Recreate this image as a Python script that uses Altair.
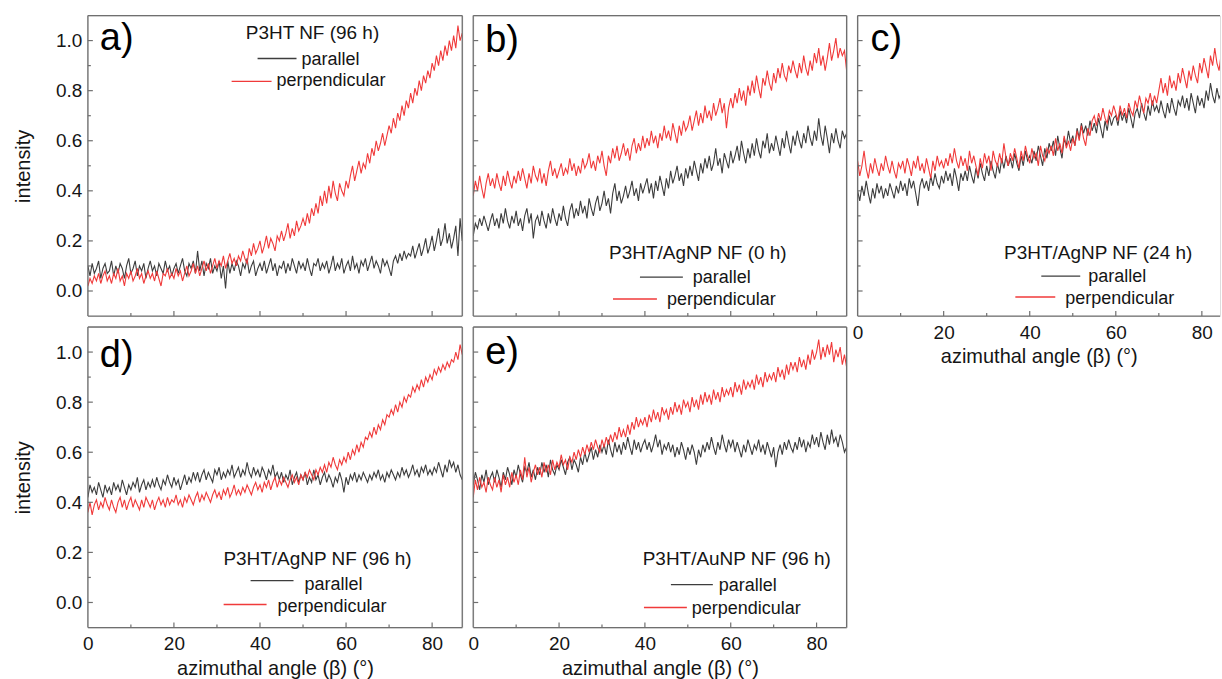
import altair as alt
import pandas as pd

# azimuthal angle grid (degrees), 0.5 deg steps from 0 to 87
ANGLE = [i * 0.5 for i in range(175)]

# ---------------- panel a) P3HT NF (96 h) ----------------
a_par = [
    0.10, 0.06, 0.11, 0.07, 0.09, 0.12, 0.05, 0.09, 0.11, 0.07,
    0.08, 0.12, 0.06, 0.10, 0.07, 0.11, 0.09, 0.05, 0.10, 0.13,
    0.07, 0.09, 0.12, 0.06, 0.10, 0.08, 0.11, 0.05, 0.09, 0.12,
    0.08, 0.10, 0.06, 0.11, 0.09, 0.07, 0.12, 0.08, 0.10, 0.06,
    0.09, 0.11, 0.07, 0.10, 0.13, 0.08, 0.06, 0.11, 0.09, 0.12,
    0.07, 0.16, 0.08, 0.12, 0.06, 0.11, 0.09, 0.13, 0.07, 0.10,
    0.08, 0.12, 0.05, 0.10, 0.01, 0.12, 0.07, 0.11, 0.08, 0.12,
    0.10, 0.06, 0.11, 0.09, 0.13, 0.07, 0.10, 0.12, 0.06, 0.09,
    0.11, 0.08, 0.12, 0.07, 0.10, 0.13, 0.08, 0.11, 0.06, 0.10,
    0.09, 0.12, 0.07, 0.11, 0.08, 0.13, 0.10, 0.07, 0.12, 0.09,
    0.11, 0.08, 0.13, 0.09, 0.06, 0.11, 0.10, 0.13, 0.08, 0.11,
    0.09, 0.12, 0.07, 0.10, 0.14, 0.08, 0.11, 0.09, 0.13, 0.07,
    0.10, 0.12, 0.08, 0.14, 0.09, 0.11, 0.07, 0.12, 0.10, 0.13,
    0.08, 0.11, 0.14, 0.09, 0.12, 0.10, 0.07, 0.13, 0.10, 0.12,
    0.09, 0.06, 0.12, 0.14, 0.11, 0.15, 0.12, 0.16, 0.13, 0.15,
    0.14, 0.18, 0.13, 0.16, 0.19, 0.14, 0.17, 0.21, 0.15, 0.18,
    0.22, 0.16, 0.20, 0.25, 0.18, 0.21, 0.27, 0.19, 0.23, 0.17,
    0.21, 0.26, 0.14, 0.29, 0.20,
]
a_perp = [
    0.02, 0.05, 0.03, 0.06, 0.04, 0.07, 0.03, 0.06, 0.08, 0.04,
    0.06, 0.03, 0.07, 0.05, 0.09, 0.04, 0.06, 0.02, 0.07, 0.05,
    0.08, 0.04, 0.06, 0.09, 0.05, 0.07, 0.03, 0.06, 0.08, 0.05,
    0.07, 0.04, 0.08, 0.05, 0.02, 0.07, 0.06, 0.09, 0.05, 0.07,
    0.05, 0.09, 0.06, 0.08, 0.04, 0.07, 0.10, 0.06, 0.08, 0.11,
    0.07, 0.10, 0.06, 0.09, 0.12, 0.08, 0.11, 0.07, 0.10, 0.13,
    0.09, 0.12, 0.10, 0.14, 0.09, 0.12, 0.15, 0.11, 0.13, 0.10,
    0.14, 0.12, 0.16, 0.13, 0.11, 0.17, 0.14, 0.19, 0.15, 0.17,
    0.20, 0.15, 0.18, 0.22, 0.17, 0.21, 0.19, 0.16, 0.22, 0.20,
    0.24, 0.20, 0.23, 0.27, 0.21, 0.25, 0.22, 0.28, 0.24, 0.26,
    0.29, 0.26, 0.31, 0.27, 0.33, 0.30, 0.35, 0.31, 0.38, 0.34,
    0.40, 0.35, 0.42, 0.37, 0.44, 0.39, 0.36, 0.43, 0.40, 0.38,
    0.44, 0.41, 0.46, 0.50, 0.44, 0.48, 0.52, 0.47, 0.51, 0.49,
    0.55, 0.51, 0.57, 0.54, 0.60, 0.56, 0.59, 0.63, 0.58, 0.62,
    0.66, 0.63, 0.69, 0.65, 0.71, 0.68, 0.74, 0.70, 0.76, 0.73,
    0.79, 0.75, 0.81, 0.78, 0.84, 0.80, 0.86, 0.83, 0.88, 0.85,
    0.91, 0.88, 0.94, 0.90, 0.96, 0.92, 0.98, 0.94, 1.00, 0.96,
    1.02, 0.97, 1.06, 1.00, 1.03,
]

# ---------------- panel b) P3HT/AgNP NF (0 h) ----------------
b_par = [
    0.22, 0.27, 0.25, 0.29, 0.26, 0.30, 0.27, 0.24, 0.28, 0.31,
    0.26, 0.29, 0.25, 0.31, 0.27, 0.33, 0.28, 0.25, 0.30, 0.27,
    0.32, 0.26, 0.29, 0.24, 0.30, 0.33, 0.27, 0.31, 0.21, 0.28,
    0.30, 0.26, 0.32, 0.28, 0.25, 0.31, 0.27, 0.33, 0.29, 0.26,
    0.31, 0.28, 0.34, 0.29, 0.26, 0.32, 0.35, 0.29, 0.33, 0.30,
    0.36, 0.31, 0.34, 0.29, 0.37, 0.33, 0.30, 0.35, 0.38, 0.32,
    0.35, 0.40, 0.34, 0.37, 0.31, 0.39, 0.43, 0.36, 0.40, 0.35,
    0.38, 0.42, 0.37, 0.40, 0.44, 0.38, 0.41, 0.36, 0.43, 0.39,
    0.42, 0.45, 0.39, 0.43, 0.37, 0.44, 0.40, 0.46, 0.42, 0.38,
    0.45, 0.41, 0.48, 0.43, 0.46, 0.50, 0.44, 0.47, 0.42, 0.49,
    0.45, 0.50, 0.46, 0.52, 0.48, 0.44, 0.51, 0.47, 0.53, 0.49,
    0.54, 0.48, 0.51, 0.57, 0.50, 0.53, 0.47, 0.55, 0.52, 0.49,
    0.56, 0.51, 0.54, 0.58, 0.52, 0.60, 0.55, 0.51, 0.57, 0.53,
    0.59, 0.54, 0.61, 0.56, 0.53, 0.60, 0.57, 0.63, 0.55, 0.59,
    0.56, 0.62, 0.58, 0.54, 0.61, 0.57, 0.64, 0.59, 0.55, 0.62,
    0.58, 0.64, 0.60, 0.57, 0.63, 0.59, 0.66, 0.61, 0.58, 0.64,
    0.60, 0.69, 0.62, 0.58, 0.66, 0.61, 0.55, 0.63, 0.59, 0.65,
    0.60, 0.57, 0.64, 0.61, 0.63,
]
b_perp = [
    0.38, 0.44, 0.40, 0.46, 0.41, 0.37, 0.43, 0.47, 0.42, 0.45,
    0.41, 0.47, 0.43, 0.40, 0.46, 0.42, 0.48, 0.44, 0.41, 0.46,
    0.43, 0.48, 0.44, 0.49, 0.45, 0.41, 0.47, 0.43, 0.50, 0.46,
    0.44, 0.49, 0.43, 0.47, 0.42, 0.48, 0.52, 0.46, 0.49, 0.45,
    0.48, 0.51, 0.46, 0.49, 0.47, 0.53, 0.48, 0.51, 0.46, 0.50,
    0.47, 0.53, 0.49, 0.51, 0.55, 0.49, 0.52, 0.48, 0.54, 0.51,
    0.56, 0.50, 0.46, 0.54, 0.51, 0.57, 0.53, 0.58, 0.52, 0.55,
    0.59, 0.54, 0.57, 0.52, 0.58, 0.61, 0.55, 0.59, 0.56, 0.62,
    0.57, 0.61, 0.58, 0.64, 0.59, 0.62, 0.57, 0.63, 0.60, 0.66,
    0.61, 0.64, 0.60, 0.67, 0.63, 0.59, 0.66, 0.62, 0.68, 0.64,
    0.66, 0.70, 0.64, 0.68, 0.72, 0.66, 0.71, 0.67, 0.74, 0.69,
    0.72, 0.68, 0.75, 0.70, 0.73, 0.77, 0.71, 0.75, 0.65, 0.73,
    0.77, 0.73, 0.79, 0.75, 0.81, 0.76, 0.80, 0.74, 0.82, 0.78,
    0.84, 0.79, 0.86, 0.81, 0.77, 0.85, 0.82, 0.88, 0.83, 0.80,
    0.87, 0.83, 0.89, 0.85, 0.91, 0.86, 0.84, 0.90, 0.87, 0.92,
    0.88, 0.85, 0.91, 0.87, 0.94, 0.89, 0.86, 0.92, 0.88, 0.95,
    0.91, 0.97, 0.90, 0.94, 0.88, 0.93, 0.99, 0.92, 0.96, 1.01,
    0.93, 0.97, 0.94, 0.96, 0.88,
]

# ---------------- panel c) P3HT/AgNP NF (24 h) ----------------
c_par = [
    0.40, 0.36, 0.42, 0.38, 0.44, 0.39, 0.35, 0.41, 0.37, 0.43,
    0.39, 0.42, 0.37, 0.41, 0.38, 0.43, 0.40, 0.37, 0.42, 0.39,
    0.44, 0.40, 0.43, 0.38, 0.45, 0.41, 0.44, 0.39, 0.34, 0.42,
    0.45, 0.41, 0.44, 0.40, 0.46, 0.42, 0.47, 0.43, 0.41, 0.46,
    0.43, 0.48, 0.44, 0.47, 0.42, 0.49, 0.45, 0.40, 0.47, 0.44,
    0.48, 0.44, 0.50, 0.46, 0.43, 0.49, 0.45, 0.51, 0.47, 0.44,
    0.50, 0.46, 0.52, 0.48, 0.45, 0.51, 0.47, 0.53, 0.49, 0.54,
    0.50, 0.53, 0.49, 0.55, 0.51, 0.48, 0.54, 0.50, 0.56, 0.52,
    0.54, 0.51, 0.56, 0.52, 0.58, 0.54, 0.50, 0.57, 0.53, 0.59,
    0.56, 0.60, 0.54, 0.62, 0.57, 0.53, 0.61, 0.58, 0.64, 0.59,
    0.62, 0.58, 0.65, 0.61, 0.67, 0.63, 0.66, 0.62, 0.68, 0.64,
    0.67, 0.63, 0.69, 0.65, 0.61, 0.68, 0.64, 0.70, 0.66, 0.69,
    0.70, 0.66, 0.72, 0.68, 0.71, 0.67, 0.73, 0.69, 0.65, 0.71,
    0.73, 0.69, 0.75, 0.71, 0.68, 0.74, 0.70, 0.76, 0.72, 0.74,
    0.71, 0.76, 0.72, 0.69, 0.75, 0.71, 0.77, 0.73, 0.70, 0.76,
    0.74, 0.78, 0.73, 0.77, 0.72, 0.79, 0.75, 0.71, 0.78, 0.74,
    0.77, 0.73, 0.80, 0.76, 0.83, 0.78, 0.75, 0.81, 0.77, 0.79,
    0.76, 0.81, 0.78, 0.80, 0.77,
]
c_perp = [
    0.52, 0.46, 0.50, 0.56, 0.49, 0.45, 0.51, 0.47, 0.53, 0.49,
    0.46, 0.51, 0.48, 0.54, 0.50, 0.47, 0.52, 0.48, 0.45, 0.51,
    0.49, 0.52, 0.47, 0.53, 0.50, 0.46, 0.52, 0.49, 0.54, 0.48,
    0.51, 0.47, 0.53, 0.49, 0.45, 0.52, 0.48, 0.54, 0.50, 0.52,
    0.49, 0.53, 0.50, 0.55, 0.51, 0.57, 0.52, 0.49, 0.54, 0.50,
    0.53, 0.48, 0.56, 0.51, 0.54, 0.50, 0.46, 0.53, 0.49, 0.55,
    0.51, 0.54, 0.48, 0.56, 0.52, 0.50, 0.55, 0.51, 0.59, 0.53,
    0.50, 0.55, 0.52, 0.57, 0.53, 0.49, 0.56, 0.52, 0.58, 0.54,
    0.51, 0.57, 0.53, 0.55, 0.50, 0.58, 0.54, 0.52, 0.57, 0.55,
    0.58, 0.54, 0.61, 0.56, 0.59, 0.55, 0.62, 0.57, 0.60, 0.56,
    0.61, 0.58, 0.64, 0.60, 0.66, 0.61, 0.58, 0.65, 0.62, 0.68,
    0.70, 0.66, 0.71, 0.68, 0.73, 0.69, 0.67, 0.72, 0.70, 0.74,
    0.71, 0.68, 0.74, 0.70, 0.73, 0.69, 0.75, 0.72, 0.70, 0.76,
    0.73, 0.78, 0.74, 0.71, 0.77, 0.75, 0.79, 0.74, 0.78, 0.75,
    0.80, 0.85, 0.79, 0.83, 0.78, 0.86, 0.81, 0.84, 0.80, 0.87,
    0.83, 0.89, 0.85, 0.81, 0.88, 0.84, 0.90, 0.86, 0.83, 0.91,
    0.87, 0.93, 0.89, 0.85, 0.94, 0.90, 0.97, 0.91, 0.88, 0.95,
    0.92, 0.98, 0.94, 0.97, 0.93,
]

# ---------------- panel d) P3HT/AgNP NF (96 h) ----------------
d_par = [
    0.42, 0.47, 0.44, 0.46, 0.43, 0.48, 0.45, 0.42, 0.47, 0.44,
    0.46, 0.43, 0.48, 0.45, 0.47, 0.44, 0.49, 0.46, 0.43, 0.47,
    0.45, 0.48, 0.46, 0.50, 0.44, 0.47, 0.49, 0.45, 0.48, 0.46,
    0.49, 0.46, 0.50, 0.47, 0.45, 0.49, 0.47, 0.51, 0.48, 0.46,
    0.50, 0.47, 0.49, 0.45, 0.48, 0.51, 0.47, 0.50, 0.48, 0.52,
    0.49, 0.52, 0.48, 0.51, 0.53, 0.49, 0.52, 0.50, 0.48, 0.53,
    0.51, 0.54, 0.49, 0.52, 0.50, 0.53, 0.51, 0.55, 0.50, 0.52,
    0.54, 0.50, 0.53, 0.51, 0.56, 0.52, 0.50, 0.54, 0.51, 0.53,
    0.50, 0.54, 0.52, 0.49, 0.53, 0.51, 0.55, 0.50, 0.52, 0.49,
    0.52, 0.48, 0.51, 0.49, 0.53, 0.47, 0.50, 0.52, 0.48, 0.51,
    0.49, 0.52, 0.47, 0.50, 0.48, 0.53, 0.49, 0.51, 0.47, 0.50,
    0.52, 0.48, 0.51, 0.49, 0.46, 0.50, 0.48, 0.52, 0.49, 0.44,
    0.50, 0.47, 0.51, 0.49, 0.52, 0.48, 0.51, 0.49, 0.52, 0.50,
    0.48, 0.51, 0.49, 0.52, 0.50, 0.53, 0.49, 0.51, 0.48, 0.52,
    0.50, 0.53, 0.51, 0.49, 0.52, 0.50, 0.54, 0.51, 0.53, 0.50,
    0.52, 0.55, 0.51, 0.53, 0.50, 0.54, 0.52, 0.55, 0.51, 0.53,
    0.51, 0.54, 0.52, 0.56, 0.53, 0.50, 0.55, 0.52, 0.57, 0.54,
    0.56, 0.52, 0.55, 0.51, 0.49,
]
d_perp = [
    0.36, 0.40, 0.35, 0.39, 0.41, 0.37, 0.40, 0.38, 0.42, 0.39,
    0.37, 0.41, 0.38, 0.36, 0.40, 0.42, 0.38, 0.41, 0.37, 0.40,
    0.42, 0.38, 0.41, 0.39, 0.37, 0.41, 0.38, 0.42, 0.40, 0.38,
    0.41, 0.37, 0.40, 0.42, 0.39, 0.41, 0.38, 0.42, 0.39, 0.41,
    0.40, 0.43, 0.39, 0.41, 0.38, 0.42, 0.40, 0.43, 0.41, 0.39,
    0.42, 0.44, 0.40, 0.43, 0.41, 0.44, 0.42, 0.40, 0.43, 0.45,
    0.42, 0.44, 0.41, 0.45, 0.43, 0.46, 0.42, 0.44, 0.47, 0.43,
    0.45, 0.43, 0.46, 0.44, 0.47, 0.45, 0.43, 0.46, 0.48, 0.45,
    0.47, 0.44, 0.48, 0.46, 0.49, 0.45, 0.48, 0.50, 0.46, 0.49,
    0.47, 0.50, 0.48, 0.46, 0.49, 0.51, 0.48, 0.50, 0.47, 0.51,
    0.49, 0.52, 0.50, 0.53, 0.51, 0.49, 0.53, 0.51, 0.54, 0.52,
    0.55, 0.52, 0.56, 0.54, 0.58, 0.55, 0.53, 0.57, 0.55, 0.58,
    0.56, 0.60, 0.57, 0.61, 0.59, 0.63, 0.60, 0.64, 0.62, 0.66,
    0.65, 0.68, 0.66, 0.70, 0.67, 0.71, 0.69, 0.73, 0.71, 0.75,
    0.74, 0.77, 0.75, 0.79, 0.76, 0.80, 0.78, 0.82, 0.80, 0.83,
    0.82, 0.86, 0.84, 0.87, 0.85, 0.89, 0.86, 0.90, 0.88, 0.91,
    0.89, 0.93, 0.91, 0.94, 0.92, 0.95, 0.93, 0.96, 0.94, 0.97,
    0.96, 1.00, 0.97, 1.03, 0.99,
]

# ---------------- panel e) P3HT/AuNP NF (96 h) ----------------
e_par = [
    0.47, 0.52, 0.49, 0.45, 0.51, 0.48, 0.53, 0.47, 0.50, 0.52,
    0.48, 0.53, 0.50, 0.46, 0.52, 0.49, 0.54, 0.51, 0.47, 0.53,
    0.50, 0.55, 0.51, 0.48, 0.54, 0.52, 0.56, 0.50, 0.53, 0.49,
    0.54, 0.51, 0.56, 0.52, 0.55, 0.50, 0.57, 0.53, 0.51, 0.55,
    0.53, 0.57, 0.54, 0.51, 0.56, 0.58, 0.53, 0.57, 0.55, 0.52,
    0.58, 0.55, 0.60, 0.56, 0.59, 0.62, 0.57, 0.61, 0.58, 0.63,
    0.60, 0.63, 0.59, 0.65, 0.61, 0.58, 0.64, 0.60, 0.63, 0.59,
    0.64, 0.61, 0.66, 0.62, 0.59, 0.65, 0.61, 0.64, 0.60, 0.63,
    0.65, 0.61, 0.64, 0.60, 0.63, 0.67, 0.62, 0.65, 0.59, 0.63,
    0.61, 0.64, 0.60, 0.63, 0.58, 0.62, 0.59, 0.64, 0.61, 0.57,
    0.62, 0.59, 0.63, 0.60, 0.55, 0.61, 0.58, 0.63, 0.60, 0.64,
    0.61, 0.66, 0.62, 0.59, 0.64, 0.61, 0.67, 0.63, 0.60, 0.65,
    0.62, 0.65, 0.60, 0.64, 0.61, 0.58, 0.63, 0.60, 0.65, 0.62,
    0.59, 0.63, 0.61, 0.65, 0.60, 0.63, 0.59, 0.64, 0.61, 0.58,
    0.62, 0.54, 0.60, 0.63, 0.59, 0.64, 0.61, 0.65, 0.62, 0.60,
    0.64, 0.61, 0.66, 0.62, 0.65, 0.60, 0.64, 0.62, 0.67, 0.63,
    0.66, 0.62, 0.68, 0.64, 0.61, 0.67, 0.63, 0.69, 0.64, 0.66,
    0.62, 0.67, 0.64, 0.60, 0.62,
]
e_perp = [
    0.42, 0.49, 0.45, 0.50, 0.46, 0.48, 0.44, 0.50, 0.47, 0.45,
    0.50, 0.46, 0.49, 0.44, 0.51, 0.47, 0.50, 0.46, 0.52, 0.48,
    0.51, 0.47, 0.53, 0.49, 0.58, 0.50, 0.54, 0.48, 0.52, 0.55,
    0.51, 0.54, 0.50, 0.56, 0.52, 0.55, 0.51, 0.57, 0.53, 0.56,
    0.54, 0.59, 0.55, 0.57, 0.53, 0.58, 0.56, 0.60, 0.57, 0.61,
    0.58, 0.62, 0.59, 0.63, 0.60, 0.64, 0.61, 0.65, 0.62, 0.60,
    0.65, 0.62, 0.66, 0.63, 0.67, 0.64, 0.68, 0.65, 0.70, 0.66,
    0.69, 0.66, 0.71, 0.67, 0.72, 0.69, 0.74, 0.70, 0.73, 0.71,
    0.74, 0.70, 0.75, 0.72, 0.77, 0.73, 0.76, 0.72, 0.78, 0.75,
    0.77, 0.73, 0.78, 0.75, 0.80, 0.76, 0.79, 0.75, 0.81, 0.78,
    0.80, 0.76, 0.82, 0.78, 0.81, 0.77, 0.83, 0.79, 0.84, 0.80,
    0.83, 0.79, 0.85, 0.81, 0.84, 0.80, 0.86, 0.82, 0.85, 0.83,
    0.86, 0.82, 0.88, 0.84, 0.87, 0.83, 0.89, 0.85, 0.88, 0.86,
    0.89, 0.85, 0.91, 0.87, 0.90, 0.86, 0.92, 0.88, 0.91, 0.89,
    0.92, 0.88, 0.94, 0.90, 0.93, 0.89, 0.95, 0.91, 0.96, 0.93,
    0.96, 0.92, 0.98, 0.94, 0.97, 0.93, 0.99, 0.95, 1.01, 0.97,
    1.00, 1.05, 0.97, 1.02, 0.98, 1.03, 0.99, 1.04, 0.96, 1.01,
    0.98, 1.02, 0.95, 0.99, 0.94,
]

SERIES = ["parallel", "perpendicular"]
LETTERS = ["a)", "b)", "c)", "d)", "e)"]
TITLES = ["P3HT NF (96 h)", "P3HT/AgNP NF (0 h)", "P3HT/AgNP NF (24 h)",
          "P3HT/AgNP NF (96 h)", "P3HT/AuNP NF (96 h)"]
Y_MAJOR = [0.0, 0.2, 0.4, 0.6, 0.8, 1.0]
Y_MINOR = [0.1, 0.3, 0.5, 0.7, 0.9]
X_LABELS = [0, 20, 40, 60, 80]
X_MAJOR = [20, 40, 60, 80]
X_MINOR = [10, 30, 50, 70]
Y_DOMAIN = [-0.1, 1.1]
X_TITLE = "azimuthal angle (β) (°)"
Y_TITLE = "intensity"

FONT = "Liberation Sans"
FRAME = "#6f6f6f"
TXT = "#151515"
COLORS = ["#3d3d3d", "#f03a3a"]
H = 301
LABEL_FS = 19
TITLE_FS = 20
LEG_TITLE_FS = 19
LEG_FS = 18


def one_row(v):
    return pd.DataFrame({"v": v})


def blank_axis():
    return alt.Axis(labels=False, ticks=False, domain=False, grid=False, title=None)


def panel(par, perp, letter, title, lay, width, xmax, ylab, xlab, right=True):
    df = pd.DataFrame({
        "angle": ANGLE + ANGLE,
        "intensity": par + perp,
        "series": [SERIES[0]] * len(par) + [SERIES[1]] * len(perp),
    })
    xs = alt.Scale(domain=[0, xmax], nice=False, zero=False)
    ys = alt.Scale(domain=Y_DOMAIN, nice=False, zero=False)
    if xlab:
        xaxis = alt.Axis(values=X_LABELS, ticks=False, tickSize=0, domain=False, grid=False,
                         labelFont=FONT, labelFontSize=LABEL_FS, labelColor=TXT,
                         labelPadding=7, labelFlush=False, title=X_TITLE,
                         titleFont=FONT, titleFontSize=TITLE_FS, titleFontWeight="normal",
                         titleColor=TXT, titlePadding=5)
    else:
        xaxis = blank_axis()
    if ylab:
        yaxis = alt.Axis(values=Y_MAJOR, ticks=False, tickSize=0, domain=False, grid=False,
                         format=".1f", labelFont=FONT, labelFontSize=LABEL_FS,
                         labelColor=TXT, labelPadding=6, labelFlush=False,
                         title=Y_TITLE, titleFont=FONT, titleFontSize=TITLE_FS,
                         titleFontWeight="normal", titleColor=TXT, titlePadding=22)
    else:
        yaxis = blank_axis()

    def X(field):
        return alt.X(field, scale=xs, axis=xaxis)

    def Y(field):
        return alt.Y(field, scale=ys, axis=yaxis)

    lines = alt.Chart(df).mark_line(strokeWidth=1.1, clip=True).encode(
        x=X("angle:Q"),
        y=Y("intensity:Q"),
        color=alt.Color("series:N", scale=alt.Scale(domain=SERIES, range=COLORS), legend=None),
    )

    layers = [lines]
    # frame
    layers.append(alt.Chart(one_row(Y_DOMAIN)).mark_rule(color=FRAME, strokeWidth=1.3).encode(
        y=Y("v:Q")))
    xedges = [0, xmax] if right else [0]
    layers.append(alt.Chart(one_row(xedges)).mark_rule(color=FRAME, strokeWidth=1.3).encode(
        x=X("v:Q")))
    # inward ticks
    layers.append(alt.Chart(one_row(Y_MAJOR)).mark_rule(color=FRAME, strokeWidth=1.2).encode(
        y=Y("v:Q"), x=alt.value(0), x2=alt.value(5)))
    layers.append(alt.Chart(one_row(Y_MINOR)).mark_rule(color=FRAME, strokeWidth=1.2).encode(
        y=Y("v:Q"), x=alt.value(0), x2=alt.value(3)))
    layers.append(alt.Chart(one_row(X_MAJOR)).mark_rule(color=FRAME, strokeWidth=1.2).encode(
        x=X("v:Q"), y=alt.value(H), y2=alt.value(H - 5)))
    layers.append(alt.Chart(one_row(X_MINOR)).mark_rule(color=FRAME, strokeWidth=1.2).encode(
        x=X("v:Q"), y=alt.value(H), y2=alt.value(H - 3)))

    # panel letter
    layers.append(alt.Chart(pd.DataFrame({"t": [letter]})).mark_text(
        align="left", baseline="alphabetic", font=FONT, fontSize=38, color="#000").encode(
        text="t:N", x=alt.value(lay["letter"][0]), y=alt.value(lay["letter"][1])))
    # legend title
    layers.append(alt.Chart(pd.DataFrame({"t": [title]})).mark_text(
        align="center", baseline="alphabetic", font=FONT, fontSize=LEG_TITLE_FS, color=TXT).encode(
        text="t:N", x=alt.value(lay["title"][0]), y=alt.value(lay["title"][1])))
    # legend entries
    for name, col, key in [(SERIES[0], COLORS[0], "par"), (SERIES[1], COLORS[1], "perp")]:
        x1, x2, yl, xt, yt = lay[key]
        layers.append(alt.Chart(pd.DataFrame({"t": [name]})).mark_rule(
            color=col, strokeWidth=1.4).encode(
            x=alt.value(x1), x2=alt.value(x2), y=alt.value(yl)))
        layers.append(alt.Chart(pd.DataFrame({"t": [name]})).mark_text(
            align="left", baseline="alphabetic", font=FONT, fontSize=LEG_FS, color=TXT).encode(
            text="t:N", x=alt.value(xt), y=alt.value(yt)))

    return alt.layer(*layers).properties(width=width, height=H)


LAY = {
    "a": {"letter": (12, 35), "title": (225, 24),
          "par": (170, 209, 43, 214, 50), "perp": (144, 184, 66, 189, 71)},
    "b": {"letter": (12, 37), "title": (225, 244),
          "par": (167, 210, 262, 220, 268), "perp": (140, 184, 284, 194, 290)},
    "c": {"letter": (13, 36), "title": (241, 244),
          "par": (184, 223, 261, 231, 267), "perp": (158, 198, 282, 208, 289)},
    "d": {"letter": (12, 40), "title": (230, 238),
          "par": (163, 206, 254, 217, 263), "perp": (136, 179, 278, 190, 285)},
    "e": {"letter": (12, 37), "title": (264, 238),
          "par": (198, 240, 258, 246, 264), "perp": (171, 214, 281, 219, 287)},
}

W_A = 375
W_B = 374
W_C = 363
XMAX = 87.0
XMAX_C = XMAX * W_C / W_A

pa = panel(a_par, a_perp, LETTERS[0], TITLES[0], LAY["a"], W_A, XMAX, True, False)
pb = panel(b_par, b_perp, LETTERS[1], TITLES[1], LAY["b"], W_B, XMAX, False, False)
pc = panel(c_par, c_perp, LETTERS[2], TITLES[2], LAY["c"], W_C, XMAX_C, False, True, right=False)
pd_ = panel(d_par, d_perp, LETTERS[3], TITLES[3], LAY["d"], W_A, XMAX, True, True)
pe = panel(e_par, e_perp, LETTERS[4], TITLES[4], LAY["e"], W_B, XMAX, False, True)

chart = alt.concat(pa, pb, pc, pd_, pe, columns=3, spacing=11, bounds="flush").properties(
    padding={"left": 13, "top": 13, "right": 0, "bottom": 0},
    background="white",
).configure_view(stroke=None).configure(font=FONT)

chart.save("out.html", embed_options={"renderer": "svg", "actions": False})
